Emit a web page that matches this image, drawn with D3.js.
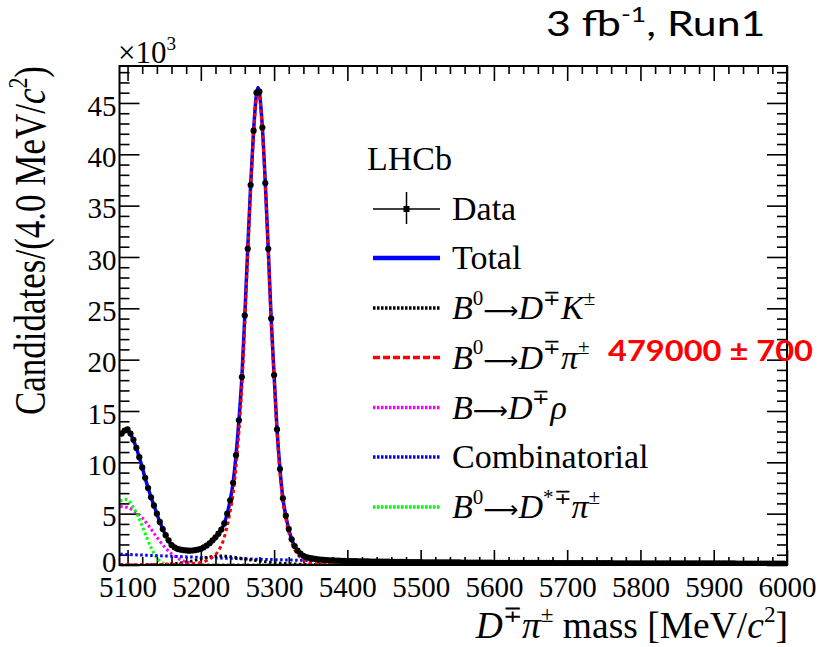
<!DOCTYPE html>
<html>
<head>
<meta charset="utf-8">
<script src="https://cdn.jsdelivr.net/npm/d3@7"></script>
<style>
  body { margin: 0; background: #fff; }
  svg { display: block; }
</style>
</head>
<body>
<svg id="chart" width="819" height="647"></svg>
<script>
// ---------------- data ----------------
// Histogram of D∓π± mass, 4 MeV/c² bins, first bin centred at 5092 MeV/c².
const binFirstCentre = 5092;
const binWidth = 4;
// Candidates per bin (×10³)
const dataCounts = [
  12.8, 13.1, 13.2, 12.8, 12.2, 11.4, 10.5, 9.5, 8.5, 7.5, 6.6, 5.8, 5.0, 4.2, 3.5, 2.9, 2.4,
  1.95, 1.72, 1.58, 1.5, 1.45, 1.42, 1.4, 1.41, 1.44, 1.5, 1.58, 1.72, 1.9, 2.12, 2.4, 2.7, 3.05, 3.45,
  4.05, 5.0, 6.3, 8.0, 10.7, 14.1, 18.3, 24.3, 30.8, 37.0, 42.3, 46.0, 46.1, 42.6, 37.2, 30.8, 24.0, 18.5, 13.2,
  9.35, 6.5, 4.8, 3.5, 2.5, 1.85, 1.4, 1.1, 0.9, 0.78, 0.7, 0.64, 0.59,
  0.55, 0.52, 0.50, 0.48, 0.46, 0.45, 0.43, 0.42, 0.41, 0.40,
  0.39, 0.38, 0.38, 0.37, 0.36, 0.36, 0.35, 0.35, 0.34, 0.34,
  0.33, 0.33, 0.32, 0.32, 0.32, 0.31, 0.31, 0.30, 0.30, 0.30,
  0.29, 0.29, 0.29, 0.28, 0.28, 0.28, 0.27, 0.27, 0.27, 0.27,
  0.26, 0.26, 0.26, 0.26, 0.25, 0.25, 0.25, 0.25, 0.25, 0.24,
  0.24, 0.24, 0.24, 0.24, 0.23, 0.23, 0.23, 0.23, 0.23, 0.23,
  0.22, 0.22, 0.22, 0.22, 0.22, 0.22, 0.21, 0.21, 0.21, 0.21,
  0.21, 0.21, 0.21, 0.20, 0.20, 0.20, 0.20, 0.20, 0.20, 0.20,
  0.20, 0.19, 0.19, 0.19, 0.19, 0.19, 0.19, 0.19, 0.19, 0.19,
  0.18, 0.18, 0.18, 0.18, 0.18, 0.18, 0.18, 0.18, 0.18, 0.18,
  0.18, 0.17, 0.17, 0.17, 0.17, 0.17, 0.17, 0.17, 0.17, 0.17,
  0.17, 0.17, 0.16, 0.16, 0.16, 0.16, 0.16, 0.16, 0.16, 0.16,
  0.16, 0.16, 0.16, 0.16, 0.16, 0.16, 0.15, 0.15, 0.15, 0.15,
  0.15, 0.15, 0.15, 0.15, 0.15, 0.15, 0.15, 0.15, 0.15, 0.15,
  0.15, 0.15, 0.15, 0.14, 0.14, 0.14, 0.14, 0.14, 0.14, 0.14,
  0.14, 0.14, 0.14, 0.14, 0.14, 0.14, 0.14, 0.14, 0.14, 0.14
];

// Fit model curves, [mass (MeV/c²), candidates ×10³ per 4 MeV]
const totalFit = [
  [5090, 12.6], [5094, 13.0], [5098, 13.2], [5102, 13.0], [5106, 12.5], [5110, 11.8], [5116, 10.5],
  [5120, 9.5], [5128, 7.5], [5136, 5.8], [5144, 4.2], [5152, 2.9], [5160, 1.95], [5168, 1.58],
  [5176, 1.45], [5184, 1.4], [5192, 1.44], [5200, 1.58], [5208, 1.9], [5216, 2.4], [5224, 3.05],
  [5228, 3.45], [5232, 4.05], [5236, 5.0], [5240, 6.3], [5244, 8.0], [5248, 10.7], [5252, 14.1],
  [5256, 18.3], [5260, 24.3], [5264, 30.8], [5268, 37.0], [5272, 42.3], [5276, 45.9], [5278, 46.5],
  [5280, 46.0], [5284, 42.6], [5288, 37.2], [5292, 30.8], [5296, 24.0], [5300, 18.5], [5304, 13.2],
  [5308, 9.35], [5312, 6.5], [5316, 4.8], [5320, 3.5], [5324, 2.5], [5328, 1.85], [5332, 1.4],
  [5340, 0.9], [5348, 0.7], [5356, 0.59], [5370, 0.49], [5400, 0.39], [5450, 0.33], [5500, 0.285],
  [5600, 0.22], [5700, 0.195], [5800, 0.17], [5900, 0.15], [6000, 0.14]
];
const dpiSignal = [
  [5090, 0.02], [5150, 0.06], [5180, 0.12], [5196, 0.2], [5204, 0.3], [5212, 0.6], [5220, 1.0],
  [5224, 1.4], [5228, 1.9], [5232, 2.7], [5236, 3.8], [5240, 5.2], [5244, 6.9], [5248, 9.6],
  [5252, 13.0], [5256, 17.4], [5260, 23.5], [5264, 30.2], [5268, 36.5], [5272, 41.9], [5276, 45.6],
  [5278, 46.2], [5280, 45.7], [5284, 42.3], [5288, 36.9], [5292, 30.5], [5296, 23.7], [5300, 18.2],
  [5304, 12.9], [5308, 9.05], [5312, 6.2], [5316, 4.5], [5320, 3.2], [5324, 2.2], [5328, 1.5],
  [5332, 1.05], [5340, 0.5], [5350, 0.22], [5370, 0.07], [5400, 0.02], [5500, 0.0], [6000, 0.0]
];
const dkMisid = [
  [5090, 0.0], [5140, 0.03], [5160, 0.1], [5180, 0.28], [5195, 0.5], [5210, 0.75], [5222, 0.88],
  [5235, 0.85], [5250, 0.7], [5270, 0.48], [5290, 0.3], [5310, 0.17], [5340, 0.07], [5380, 0.02],
  [5420, 0.0], [6000, 0.0]
];
const drhoBkg = [
  [5090, 5.7], [5100, 5.6], [5110, 5.2], [5120, 4.6], [5130, 3.7], [5140, 2.7], [5150, 1.8],
  [5160, 1.1], [5170, 0.6], [5180, 0.3], [5190, 0.12], [5200, 0.04], [5210, 0.0], [6000, 0.0]
];
const combBkg = [
  [5090, 1.05], [5150, 0.88], [5200, 0.74], [5250, 0.62], [5300, 0.52], [5350, 0.44], [5400, 0.37],
  [5500, 0.28], [5600, 0.22], [5700, 0.19], [5800, 0.165], [5900, 0.15], [6000, 0.14]
];
const dstpiBkg = [
  [5090, 6.2], [5096, 6.4], [5102, 6.2], [5108, 5.6], [5114, 4.8], [5120, 3.8], [5126, 2.7],
  [5132, 1.7], [5138, 0.9], [5144, 0.4], [5150, 0.15], [5160, 0.03], [5170, 0.0], [6000, 0.0]
];

const xTickValues = [5100, 5200, 5300, 5400, 5500, 5600, 5700, 5800, 5900, 6000];
const yTickValues = [0, 5, 10, 15, 20, 25, 30, 35, 40, 45];
const signalYieldLabel = "479000 ± 700";

// ---------------- layout ----------------
const svg = d3.select("#chart");
const frame = { left: 119.5, right: 787, top: 66, bottom: 565 };
const x = d3.scaleLinear().domain([5089, 6000]).range([frame.left, frame.right]);
const y = d3.scaleLinear().domain([0, 48.6]).range([frame.bottom, frame.top]);

const serif = "'Liberation Serif', 'Times New Roman', serif";
const sans = "Lato, 'Open Sans', sans-serif";

// minor ticks every 20 MeV and every 1×10³
const xMinor = d3.range(5100, 6001, 20).filter(v => !xTickValues.includes(v));
const yMinor = d3.range(0, 48.6, 1).filter(v => v % 5 !== 0);

function styleAxis(g) {
  g.attr("font-family", serif);
  g.select(".domain").remove();
  g.selectAll(".tick line").attr("stroke", "#000").attr("stroke-width", 1.6);
  g.selectAll(".tick text").attr("font-family", serif).attr("font-size", 29).attr("fill", "#000");
}

// bottom axis: major with labels, minor without
svg.append("g").attr("transform", `translate(0,${frame.bottom})`)
  .call(d3.axisBottom(x).tickValues(xTickValues).tickSize(-15).tickPadding(11).tickFormat(d3.format("d")))
  .call(styleAxis);
svg.append("g").attr("transform", `translate(0,${frame.bottom})`)
  .call(d3.axisBottom(x).tickValues(xMinor).tickSize(-8).tickFormat(""))
  .call(styleAxis);
// top axis
svg.append("g").attr("transform", `translate(0,${frame.top})`)
  .call(d3.axisTop(x).tickValues(xTickValues).tickSize(-15).tickFormat(""))
  .call(styleAxis);
svg.append("g").attr("transform", `translate(0,${frame.top})`)
  .call(d3.axisTop(x).tickValues(xMinor).tickSize(-8).tickFormat(""))
  .call(styleAxis);
// left axis
svg.append("g").attr("transform", `translate(${frame.left},0)`)
  .call(d3.axisLeft(y).tickValues(yTickValues).tickSize(-20).tickPadding(3).tickFormat(d3.format("d")))
  .call(styleAxis)
  .call(g => g.selectAll(".tick text").attr("dy", "0.42em"))
  .call(g => g.selectAll(".tick").filter(d => d === 0).select("text").attr("dy", "0.22em"));
svg.append("g").attr("transform", `translate(${frame.left},0)`)
  .call(d3.axisLeft(y).tickValues(yMinor).tickSize(-10).tickFormat(""))
  .call(styleAxis);
// right axis
svg.append("g").attr("transform", `translate(${frame.right},0)`)
  .call(d3.axisRight(y).tickValues(yTickValues).tickSize(-20).tickFormat(""))
  .call(styleAxis);
svg.append("g").attr("transform", `translate(${frame.right},0)`)
  .call(d3.axisRight(y).tickValues(yMinor).tickSize(-10).tickFormat(""))
  .call(styleAxis);

// ---------------- curves ----------------
svg.append("defs").append("clipPath").attr("id", "plotClip")
  .append("rect")
  .attr("x", frame.left).attr("y", frame.top)
  .attr("width", frame.right - frame.left).attr("height", frame.bottom - frame.top);

const plot = svg.append("g").attr("clip-path", "url(#plotClip)");
const line = d3.line().x(d => x(d[0])).y(d => y(d[1])).curve(d3.curveMonotoneX);

const curveStyles = [
  { data: drhoBkg,  color: "#ff00ff", dash: "2.5,2.5", width: 3 },
  { data: dstpiBkg, color: "#00ff00", dash: "2.5,2.5", width: 3 },
  { data: combBkg,  color: "#0000ff", dash: "2.5,2.5", width: 3 },
  { data: dkMisid,  color: "#000000", dash: "2.5,2.5", width: 3 },
  { data: totalFit, color: "#0000ff", dash: null,      width: 3.5 },
  { data: dpiSignal, color: "#ff0000", dash: "3.5,3",  width: 3 }
];
curveStyles.forEach(c => {
  plot.append("path")
    .attr("d", line(c.data))
    .attr("fill", "none")
    .attr("stroke", c.color)
    .attr("stroke-width", c.width)
    .attr("stroke-dasharray", c.dash);
});

// data points with statistical error bars
const points = dataCounts.map((v, i) => ({ m: binFirstCentre + i * binWidth, v }));
const pts = plot.append("g");
pts.selectAll("line.ey").data(points).join("line")
  .attr("x1", d => x(d.m)).attr("x2", d => x(d.m))
  .attr("y1", d => y(d.v + Math.sqrt(d.v * 1000) / 1000))
  .attr("y2", d => y(d.v - Math.sqrt(d.v * 1000) / 1000))
  .attr("stroke", "#000").attr("stroke-width", 1.2);
pts.selectAll("line.ex").data(points).join("line")
  .attr("x1", d => x(d.m - binWidth / 2)).attr("x2", d => x(d.m + binWidth / 2))
  .attr("y1", d => y(d.v)).attr("y2", d => y(d.v))
  .attr("stroke", "#000").attr("stroke-width", 1.2);
pts.selectAll("circle").data(points).join("circle")
  .attr("cx", d => x(d.m)).attr("cy", d => y(d.v)).attr("r", 3.1)
  .attr("fill", "#000");

// frame
svg.append("rect")
  .attr("x", frame.left).attr("y", frame.top)
  .attr("width", frame.right - frame.left).attr("height", frame.bottom - frame.top)
  .attr("fill", "none").attr("stroke", "#000").attr("stroke-width", 2);

// ---------------- text helpers ----------------
// parts: [text, style] with style among "", "i" (italic), "sup", "isup", "arrow"
function richText(parent, px, py, parts, size, opts = {}) {
  const t = parent.append("text")
    .attr("x", px).attr("y", py)
    .attr("font-family", opts.family || serif)
    .attr("font-size", size)
    .attr("fill", opts.fill || "#000");
  if (opts.anchor) t.attr("text-anchor", opts.anchor);
  if (opts.transform) t.attr("transform", opts.transform);
  let shift = 0;
  parts.forEach(([txt, st]) => {
    const sup = st.includes("sup");
    const target = sup ? -0.42 * size : 0;
    const s = t.append("tspan").text(txt)
      .attr("dy", target - shift);
    if (sup) s.attr("font-size", size * 0.62);
    if (st.includes("i")) s.attr("font-style", "italic");
    if (st === "arrow") s.attr("font-family", "'DejaVu Sans', sans-serif").attr("font-size", size * 0.72);
    shift = target;
  });
  return t;
}

// axis titles
richText(svg, 0, 0, [["Candidates/(4.0 MeV/", ""], ["c", "i"], ["2", "sup"], [")", ""]], 35,
  { anchor: "end", transform: `translate(45,${frame.top}) rotate(-90) scale(1,1.25)` });
richText(svg, 788, 638, [["D", "i"], ["∓", "sup"], ["π", "i"], ["±", "sup"], [" mass [MeV/", ""], ["c", "i"], ["2", "sup"], ["]", ""]], 37.5,
  { anchor: "end" });
// axis multiplier
richText(svg, 118, 63, [["×10", ""], ["3", "sup"]], 31);

// ---------------- legend ----------------
const legendX1 = 373, legendX2 = 440, legendTextX = 452;
richText(svg, 367, 170, [["LHCb", ""]], 34);

const arrow = ["⟶", "arrow"];
const legendRows = [
  { cy: 209, kind: "data", label: [["Data", ""]] },
  { cy: 258, kind: "line", color: "#0000ff", dash: null, width: 4.5, label: [["Total", ""]] },
  { cy: 308, kind: "line", color: "#000000", dash: "2.5,1.5", width: 3.5,
    label: [["B", "i"], ["0", "sup"], arrow, ["D", "i"], ["∓", "sup"], ["K", "i"], ["±", "sup"]] },
  { cy: 357.5, kind: "line", color: "#ff0000", dash: "7,3", width: 3.5,
    label: [["B", "i"], ["0", "sup"], arrow, ["D", "i"], ["∓", "sup"], ["π", "i"], ["±", "sup"]] },
  { cy: 407.5, kind: "line", color: "#ff00ff", dash: "2.5,1.5", width: 3.5,
    label: [["B", "i"], arrow, ["D", "i"], ["∓", "sup"], ["ρ", "i"]] },
  { cy: 457, kind: "line", color: "#0000ff", dash: "2.5,1.5", width: 3.5,
    label: [["Combinatorial", ""]] },
  { cy: 507, kind: "line", color: "#00ff00", dash: "2.5,1.5", width: 3.5,
    label: [["B", "i"], ["0", "sup"], arrow, ["D", "i"], ["*∓", "sup"], ["π", "i"], ["±", "sup"]] }
];
const legend = svg.append("g");
legendRows.forEach(r => {
  if (r.kind === "data") {
    legend.append("line").attr("x1", legendX1).attr("x2", legendX2).attr("y1", r.cy).attr("y2", r.cy)
      .attr("stroke", "#000").attr("stroke-width", 1.5);
    legend.append("line").attr("x1", (legendX1 + legendX2) / 2).attr("x2", (legendX1 + legendX2) / 2)
      .attr("y1", r.cy - 17).attr("y2", r.cy + 15).attr("stroke", "#000").attr("stroke-width", 1.5);
    legend.append("rect").attr("x", (legendX1 + legendX2) / 2 - 3).attr("y", r.cy - 3)
      .attr("width", 6).attr("height", 6).attr("fill", "#000");
  } else {
    legend.append("line").attr("x1", legendX1).attr("x2", legendX2).attr("y1", r.cy).attr("y2", r.cy)
      .attr("stroke", r.color).attr("stroke-width", r.width).attr("stroke-dasharray", r.dash);
  }
  richText(legend, legendTextX, r.cy + 11, r.label, 34);
});

// signal yield annotation
svg.append("text")
  .attr("x", 608).attr("y", 361)
  .attr("font-family", sans).attr("font-weight", 700).attr("font-size", 29)
  .attr("fill", "#ff0000")
  .attr("textLength", 205).attr("lengthAdjust", "spacingAndGlyphs")
  .text(signalYieldLabel);

// luminosity / run label
richText(svg, 0, 0, [["3 fb", ""], ["-1", "sup"], [", Run1", ""]], 34,
  { family: sans, transform: "translate(546,36) scale(1.26,1)" });
</script>
</body>
</html>
